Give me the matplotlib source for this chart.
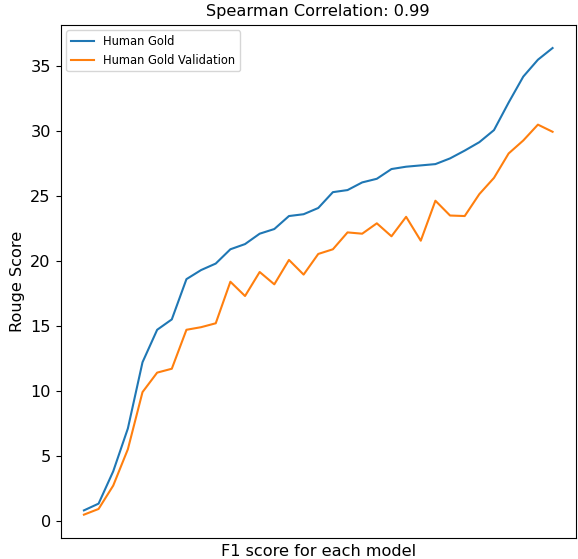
import matplotlib
matplotlib.use("Agg")
import matplotlib.pyplot as plt

human_gold = [0.79, 1.31, 3.8, 7.1, 12.2, 14.7, 15.5, 18.6, 19.3, 19.8, 20.9, 21.3,
              22.1, 22.46, 23.46, 23.6, 24.08, 25.3, 25.46, 26.05, 26.33, 27.08,
              27.26, 27.36, 27.46, 27.9, 28.5, 29.15, 30.08, 32.2, 34.2, 35.5, 36.4]
human_gold_validation = [0.46, 0.9, 2.7, 5.5, 9.9, 11.4, 11.7, 14.7, 14.9, 15.2, 18.4,
                         17.3, 19.15, 18.2, 20.08, 18.95, 20.54, 20.9, 22.2, 22.1, 22.9,
                         21.9, 23.4, 21.56, 24.64, 23.5, 23.46, 25.15, 26.4, 28.28,
                         29.28, 30.5, 29.95]
models = list(range(len(human_gold)))

fig = plt.figure(figsize=(5.78, 5.59), dpi=100)
ax = fig.add_axes([60.5 / 578, 1 - 538 / 559, (576 - 60.5) / 578, (538 - 24.7) / 559])
ax.plot(models, human_gold, label="Human Gold")
ax.plot(models, human_gold_validation, label="Human Gold Validation")
ax.set_xticks([])
ax.set_title("Spearman Correlation: 0.99", fontsize=11.6)
ax.set_xlabel("F1 score for each model", fontsize=11.6)
ax.set_ylabel("Rouge Score", fontsize=11.6)
ax.tick_params(axis="y", labelsize=11.6)
ax.legend(loc="upper left", fontsize=8.3)
fig.savefig("out.png", dpi=100)
